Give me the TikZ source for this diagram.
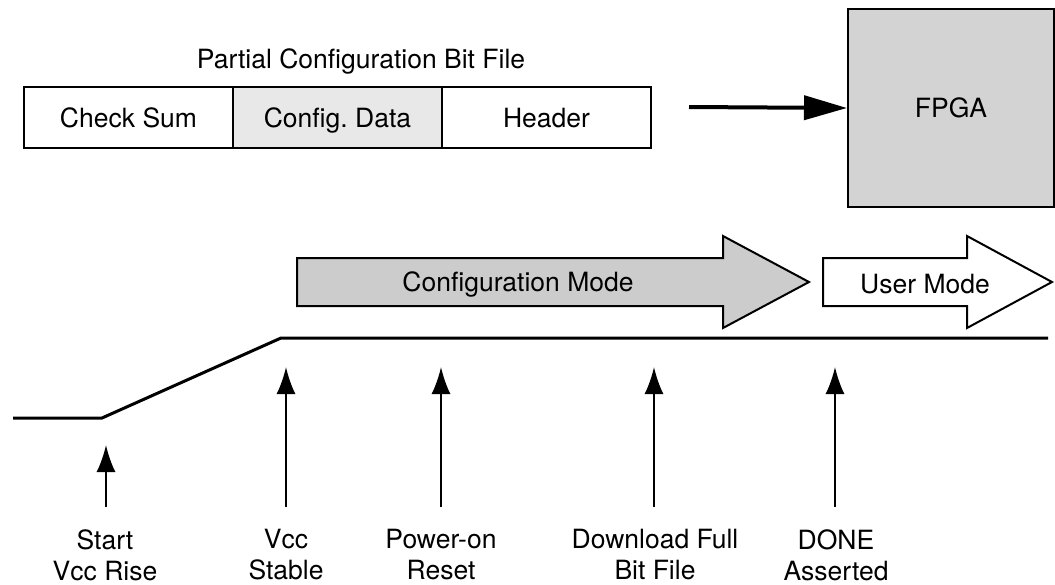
\documentclass[tikz,border=0pt]{standalone}
\usepackage{fontspec}
\setmainfont{TeX Gyre Heros}
\usetikzlibrary{arrows.meta}
\definecolor{cellgray}{HTML}{E8E8E8}
\definecolor{fpgagray}{HTML}{D3D3D3}
\definecolor{modegray}{HTML}{CCCCCC}
\frenchspacing
\begin{document}
\begin{tikzpicture}[x=1pt,y=-1pt,
  every node/.style={font=\fontsize{26.5}{31}\selectfont, inner sep=0pt},
  cell/.style={draw, line width=2pt, minimum height=61pt, anchor=north west, text depth=0pt, text height=19pt},
  modearrow/.style={draw, line width=2pt, line join=miter},
  sigline/.style={line width=3pt},
  evarrow/.style={line width=2pt, -{Latex[length=27pt,width=19pt]}},
  lbl/.style={align=center}
]
\useasboundingbox (0,0) rectangle (1055,584);

% bit file
\node (title) at (361,61) {Partial Configuration Bit File};
\node[cell, minimum width=209pt] (cs) at (23,86) {Check Sum};
\node[cell, minimum width=209pt, fill=cellgray] (cd) at (232,86) {Config. Data};
\node[cell, minimum width=209pt] (hd) at (441,86) {Header};

% FPGA
\node[draw, line width=2pt, fill=fpgagray, minimum width=206pt, minimum height=198pt, anchor=north west, text depth=0pt, text height=19pt] (fpga) at (847,8) {FPGA};
\coordinate (astart) at (689,107);
\draw[line width=4pt, -{Triangle[length=43pt,width=24pt]}] (astart) -- (fpga.west);

% mode arrows
\draw[modearrow, fill=modegray] (297,258) -- (723,258) -- (723,236) -- (809,282) -- (723,328) -- (723,306) -- (297,306) -- cycle;
\node (cfg) at (518,284) {Configuration Mode};
\draw[modearrow, fill=white] (823,258) -- (967,258) -- (967,236) -- (1052,282) -- (967,328) -- (967,306) -- (823,306) -- cycle;
\node (usr) at (925,284) {User Mode};

% Vcc line
\draw[sigline] (13,418) -- (102,418) -- (281,338) -- (1048,338);

% event arrows
\foreach \n/\x/\t in {a/106/445, b/286/367, c/441/367, d/654/367, e/835/367}{
  \coordinate (\n0) at (\x,507);
  \coordinate (\n1) at (\x,\t);
  \draw[evarrow] (\n0) -- (\n1);
}
\node[lbl] (la) at (105,555) {Start\\Vcc Rise};
\node[lbl] (lb) at (286,555) {Vcc\\Stable};
\node[lbl] (lc) at (441,555) {Power-on\\Reset};
\node[lbl] (ld) at (655,555) {Download Full\\Bit File};
\node[lbl] (le) at (836,555) {DONE\\Asserted};
\end{tikzpicture}
\end{document}
